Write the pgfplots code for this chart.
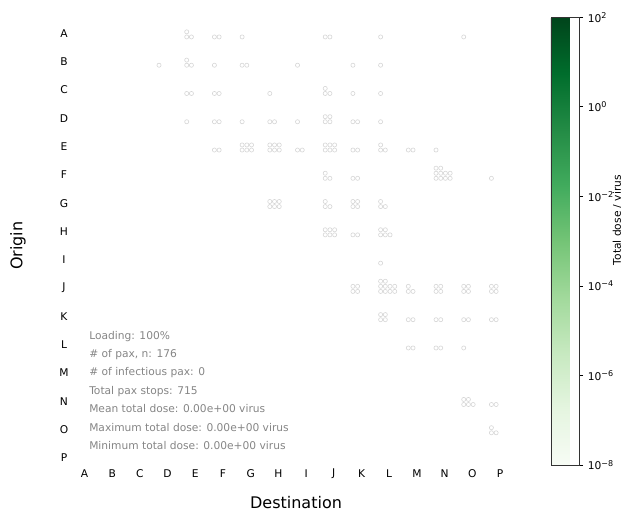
\documentclass[border=0pt]{standalone}
\usepackage{pgfplots}
\usepackage{pgfplotstable}
\pgfplotsset{compat=1.18}
\usepackage{fontspec}
\setmainfont{DejaVu Sans}
\definecolor{annot}{HTML}{858585}
\definecolor{edgec}{HTML}{D6D6D6}
\pgfplotsset{colormap={Greens}{rgb255=(247,252,245) rgb255=(229,245,224) rgb255=(199,233,192) rgb255=(161,217,155) rgb255=(116,196,118) rgb255=(65,171,93) rgb255=(35,139,69) rgb255=(0,109,44) rgb255=(0,68,27)}}
% o = origin index (A=0), d = destination index, n = passengers, c = columns of the dot block
\pgfplotstableread{
o d n c
0 4 3 2
0 5 2 2
0 6 1 1
0 9 2 2
0 11 1 1
0 14 1 1
1 3 1 1
1 4 3 2
1 5 1 1
1 6 2 2
1 8 1 1
1 10 1 1
1 11 1 1
2 4 2 2
2 5 2 2
2 7 1 1
2 9 3 2
2 10 1 1
2 11 1 1
3 4 1 1
3 5 2 2
3 6 1 1
3 7 2 2
3 8 1 1
3 9 4 2
3 10 2 2
3 11 1 1
4 5 2 2
4 6 6 3
4 7 6 3
4 8 2 2
4 9 6 3
4 10 2 2
4 11 3 2
4 12 2 2
4 13 1 1
5 9 3 2
5 10 2 2
5 13 10 4
5 15 1 1
6 7 6 3
6 9 3 2
6 10 4 2
6 11 3 2
7 9 6 3
7 10 2 2
7 11 5 3
8 11 1 1
9 10 4 2
9 11 10 4
9 12 3 2
9 13 4 2
9 14 4 2
9 15 4 2
10 11 4 2
10 12 2 2
10 13 2 2
10 14 2 2
10 15 2 2
11 12 2 2
11 13 2 2
11 14 1 1
13 14 5 3
13 15 2 2
14 15 3 2
}\cells
\begin{document}
\begin{tikzpicture}
\useasboundingbox (0,0) rectangle (465.75pt,-385.5pt);
\begin{axis}[
  at={(52.99pt,-14.55pt)}, anchor=north west,
  scale only axis, width=332.4pt, height=339.3pt,
  xmin=-0.5, xmax=15.5, ymin=-0.5, ymax=15.5, y dir=reverse,
  xtick={0,...,15}, ytick={0,...,15},
  xticklabels={A,B,C,D,E,F,G,H,I,J,K,L,M,N,O,P},
  yticklabels={A,B,C,D,E,F,G,H,I,J,K,L,M,N,O,P},
  axis line style={draw=none}, tick style={draw=none},
  ticklabel style={font=\fontsize{8}{9}\selectfont},
  xticklabel style={anchor=center, yshift=-1.3pt},
  yticklabel style={anchor=center, xshift=-5pt},
  xlabel={Destination}, ylabel={Origin},
  label style={font=\fontsize{12}{14}\selectfont},
  xlabel style={at={(axis description cs:0.5085,-0.069)}, anchor=center},
  ylabel style={at={(axis description cs:-0.1188,0.5)}, anchor=center},
  clip=false,
  colormap name=Greens, colorbar, point meta min=-8, point meta max=2,
  colorbar style={
    at={(parent axis.north east)}, anchor=north west,
    xshift=19.3pt, yshift=1.6pt,
    scale only axis, width=21.45pt, height=335.8pt,
    ytick={-8,-6,-4,-2,0,2},
    yticklabels={10\textsuperscript{−8},10\textsuperscript{−6},10\textsuperscript{−4},10\textsuperscript{−2},10\textsuperscript{0},10\textsuperscript{2}},
    yticklabel style={font=\fontsize{8}{9}\selectfont},
    tick align=outside, major tick length=2.6pt,
    ytick pos=right, yticklabel pos=right,
    tick style={draw=black, line width=0.5pt},
    axis line style={draw=black!80, line width=0.6pt},
    ylabel={Total dose / virus},
    ylabel style={font=\fontsize{8}{9}\selectfont, at={(axis description cs:2.32,0.547)}, anchor=center},
  },
]
\pgfplotsinvokeforeach{0,...,9}{
  \addplot[only marks, mark=*, mark size=1.55pt,
    mark options={draw=edgec, fill=white, line width=0.45pt}]
    table[x expr={\thisrow{d}-0.31+0.17*mod(#1,\thisrow{c})},
          y expr={\thisrow{o}+0.12-0.18*floor((#1+0.01)/\thisrow{c})},
          restrict expr to domain={\thisrow{n}-#1}{0.5:100}] {\cells};
}
\end{axis}
\begin{scope}[x=0.75pt,y=-0.75pt, every node/.style={anchor=base west, text=annot, font=\fontsize{8}{9}\selectfont, inner sep=0pt}]
\node at (89,339) {Loading: 100\%};
\node at (89,357.4) {\# of pax, n: 176};
\node at (89,375.8) {\# of infectious pax: 0};
\node at (89,394.2) {Total pax stops: 715};
\node at (89,412.6) {Mean total dose: 0.00e+00 virus};
\node at (89,431.0) {Maximum total dose: 0.00e+00 virus};
\node at (89,449.4) {Minimum total dose: 0.00e+00 virus};
\end{scope}
\end{tikzpicture}
\end{document}
